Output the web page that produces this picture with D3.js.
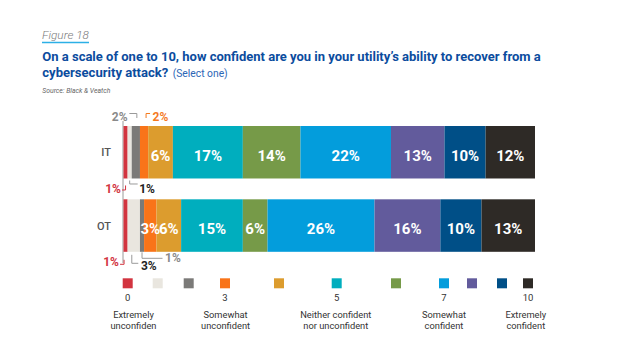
<!DOCTYPE html>
<html><head><meta charset="utf-8">
<script src="https://cdn.jsdelivr.net/npm/d3@7"></script>
<style>
body{margin:0;background:#fff}
svg{display:block;font-family:Roboto,"Noto Sans",sans-serif}
</style>
</head><body>
<svg id="chart" width="640" height="360"></svg>
<script>
// ---------- data ----------
const categories = ["IT", "OT"];
const levels = ["0","1","2","3","4","5","6","7","8","9","10"];
const itValues = [1, 1, 2, 2, 6, 17, 14, 22, 13, 10, 12];
const otValues = [1, 3, 1, 3, 6, 15, 6, 26, 16, 10, 13];
const tickLevels = ["0", "3", "5", "7", "10"];
const anchorLabels = [
  ["Extremely", "unconfiden"],
  ["Somewhat", "unconfident"],
  ["Neither confident", "nor unconfident"],
  ["Somewhat", "confident"],
  ["Extremely", "confident"]
];
const figureLabel = "Figure 18";
const titleLine1 = "On a scale of one to 10, how confident are you in your utility\u2019s ability to recover from a";
const titleLine2 = "cybersecurity attack?";
const titleNote = "(Select one)";
const sourceText = "Source: Black & Veatch";

// ---------- styles / layout ----------
const colors = ["#d2343f","#e9e6df","#7b7a78","#f97419","#dc9c2e","#00aebe","#769a48","#039ddc","#625b9c","#004f87","#2e2a26"];
const legendX = [127.7,157.7,188.7,225,279,336.7,396,444,472,502,528];
const anchorX = [133.5,225.6,335.8,444,525.8];
// callouts: values drawn outside bars (row, level index, side, offsets relative to segment centre)
const callouts = [
  {row:0, i:2, side:-1, pts:[[1,8],[1,12.5],[-6.5,12.5]], tx:-8.3, ty:5, anchor:"end", text:"#8a8a8a", line:"#9a9a9a"},
  {row:0, i:3, side:-1, pts:[[2,8],[2,12.5],[6,12.5]], tx:8.5, ty:5, anchor:"start", text:"#f47a1f", line:"#f47a1f"},
  {row:0, i:0, side:1, pts:[[0,7],[0,11.5],[-3.5,11.5]], tx:-4.6, ty:14.8, anchor:"end", text:"#d2343f", line:"#d2343f"},
  {row:0, i:1, side:1, pts:[[0,2],[0,5.5],[8,5.5]], tx:9.5, ty:14.8, anchor:"start", text:"#1e1e1e", line:"#9a9a9a"},
  {row:1, i:0, side:1, pts:[[-1.5,8],[-1.5,12.5],[-5.5,12.5]], tx:-6.6, ty:14, anchor:"end", text:"#d2343f", line:"#d2343f"},
  {row:1, i:1, side:1, pts:[[-2,3],[-2,11.5],[4.5,11.5]], tx:7.2, ty:18.3, anchor:"start", text:"#1e1e1e", line:"#9a9a9a"},
  {row:1, i:2, side:1, pts:[[0,0.5],[0,6.5],[20.5,6.5]], tx:23, ty:10.3, anchor:"start", text:"#8a8a8a", line:"#9a9a9a"}
];
const insideSkip = [[0,1,2,3],[0,1,2]];

const svg = d3.select("#chart");
const rows = [itValues, otValues];

// ---------- header ----------
svg.append("text").attr("x", 42).attr("y", 38.5)
  .attr("font-size", 11.8).attr("font-style", "italic").attr("font-weight", 300)
  .attr("fill", "#7a7a7a").text(figureLabel);
svg.append("line").attr("x1", 42).attr("x2", 89).attr("y1", 42.5).attr("y2", 42.5)
  .attr("stroke", "#2cb0e6").attr("stroke-width", 1.5);
svg.append("text").attr("x", 42.3).attr("y", 61)
  .attr("font-size", 13.3).attr("font-weight", 700).attr("fill", "#0b4c9e")
  .attr("textLength", 498.5).attr("lengthAdjust", "spacingAndGlyphs")
  .text(titleLine1);
svg.append("text").attr("x", 42.3).attr("y", 77)
  .attr("font-size", 13.3).attr("font-weight", 700).attr("fill", "#0b4c9e")
  .attr("textLength", 126).attr("lengthAdjust", "spacingAndGlyphs")
  .text(titleLine2);
svg.append("text").attr("x", 172.7).attr("y", 77)
  .attr("font-size", 11.5).attr("font-weight", 400).attr("fill", "#2c66b6")
  .attr("textLength", 55).attr("lengthAdjust", "spacingAndGlyphs")
  .text(titleNote);
svg.append("text").attr("x", 42.3).attr("y", 92.5)
  .attr("font-size", 6.8).attr("font-style", "italic").attr("fill", "#666")
  .attr("textLength", 68).attr("lengthAdjust", "spacingAndGlyphs")
  .text(sourceText);

// ---------- scales ----------
const x = d3.scaleLinear().domain([0, 100]).range([123.5, 535]);
const y = d3.scaleBand().domain(categories).range([126, 251.8]).paddingInner(0.284).paddingOuter(0);

// axis line
svg.append("line").attr("x1", 123).attr("x2", 123).attr("y1", 121).attr("y2", 263)
  .attr("stroke", "#9a9a9a").attr("stroke-width", 1);

// ---------- bars ----------
const segs = [];
rows.forEach((vals, r) => {
  let acc = 0;
  vals.forEach((v, i) => {
    segs.push({row: r, cat: categories[r], i, v, x0: acc, x1: acc + v});
    acc += v;
  });
});
svg.append("g").selectAll("rect").data(segs).join("rect")
  .attr("x", d => x(d.x0)).attr("width", d => x(d.x1) - x(d.x0))
  .attr("y", d => y(d.cat)).attr("height", y.bandwidth())
  .attr("fill", d => colors[d.i]);

svg.append("g").selectAll("text").data(segs.filter(d => !insideSkip[d.row].includes(d.i))).join("text")
  .attr("x", d => (x(d.x0) + x(d.x1)) / 2)
  .attr("y", d => y(d.cat) + y.bandwidth() / 2 + 8.5)
  .attr("text-anchor", "middle").attr("font-size", 15).attr("font-weight", 700)
  .attr("fill", "#fff").text(d => d.v + "%");

// category labels
svg.append("g").selectAll("text").data(categories).join("text")
  .attr("x", 111).attr("y", d => y(d) + y.bandwidth() / 2 + 4)
  .attr("text-anchor", "end").attr("font-size", 11).attr("font-weight", 500)
  .attr("fill", "#555").text(d => d);

// ---------- callouts ----------
callouts.forEach(c => {
  const s = segs.find(d => d.row === c.row && d.i === c.i);
  const cx = (x(s.x0) + x(s.x1)) / 2;
  const edge = c.side < 0 ? y(s.cat) : y(s.cat) + y.bandwidth();
  const line = d3.line()(c.pts.map(p => [cx + p[0], edge + c.side * p[1]]));
  svg.append("path").attr("d", line).attr("fill", "none")
    .attr("stroke", c.line).attr("stroke-width", 1);
  svg.append("text").attr("x", cx + c.tx).attr("y", edge + c.side * c.ty)
    .attr("text-anchor", c.anchor).attr("font-size", 12).attr("font-weight", 700)
    .attr("fill", c.text).text(s.v + "%");
});

// ---------- legend ----------
const lg = svg.append("g");
lg.selectAll("rect").data(levels).join("rect")
  .attr("x", (d, i) => legendX[i] - 5).attr("y", 278.3)
  .attr("width", 10).attr("height", 10)
  .attr("fill", (d, i) => colors[i]);
lg.selectAll("text.tick").data(tickLevels).join("text").attr("class", "tick")
  .attr("x", d => legendX[levels.indexOf(d)]).attr("y", 300.5)
  .attr("text-anchor", "middle").attr("font-size", 9.5).attr("fill", "#333").text(d => d);
anchorLabels.forEach((lines, k) => {
  const t = lg.append("text").attr("text-anchor", "middle").attr("font-size", 9.3).attr("fill", "#333");
  lines.forEach((ln, j) => {
    t.append("tspan").attr("x", anchorX[k]).attr("y", 317.5 + j * 11.5).text(ln);
  });
});
</script>
</body></html>
